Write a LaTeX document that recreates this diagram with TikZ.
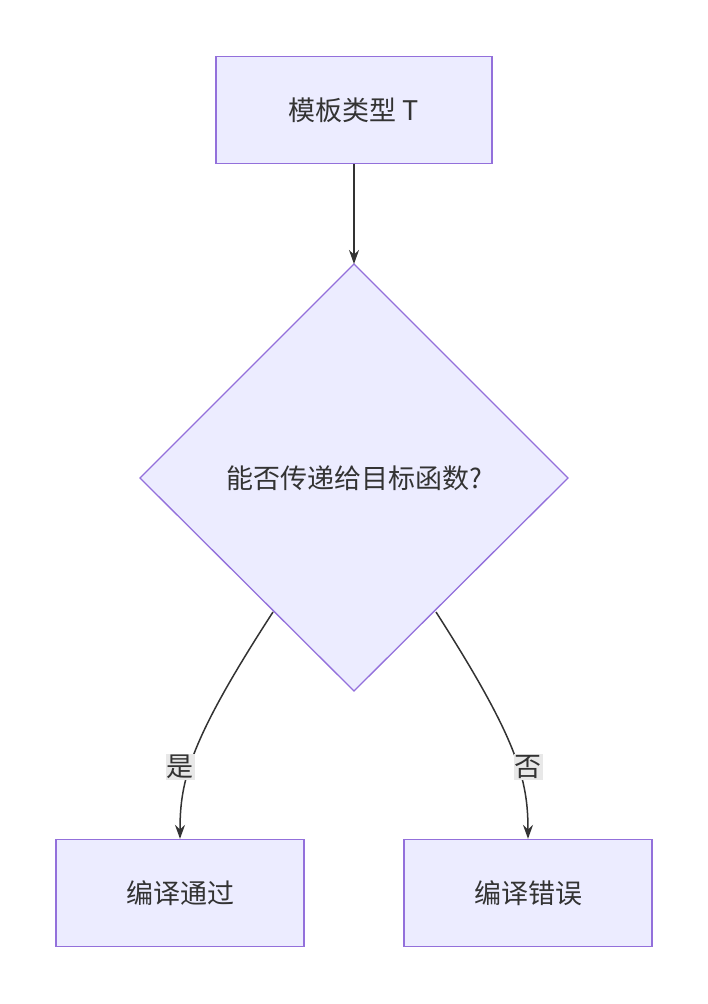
\documentclass[tikz,border=0pt]{standalone}
\usepackage{fontspec}
\setmainfont{Noto Sans CJK SC}
\usetikzlibrary{arrows.meta}
\definecolor{nfill}{HTML}{ECECFF}
\definecolor{nline}{HTML}{9370DB}
\definecolor{eline}{HTML}{333333}
\definecolor{lbg}{HTML}{E8E8E8}
\begin{document}
\begin{tikzpicture}[x=1pt,y=-1pt,
  box/.style={draw=nline,fill=nfill,line width=1.3pt,minimum width=276pt,minimum height=107pt,font=\fontsize{27}{30}\selectfont,text=eline},
  sbox/.style={box,minimum width=248pt},
  edge/.style={draw=eline,line width=1.5pt,-{Stealth[length=14pt,width=10pt]}},
  lab/.style={fill=lbg,inner sep=1pt,font=\fontsize{27}{30}\selectfont,text=eline}]
\useasboundingbox (0,0) rectangle (708,1004);
\node[box] (top) at (354,110) {模板类型 T};
\coordinate (dt) at (354,264);
\coordinate (db) at (354,691);
\coordinate (dl) at (140,478);
\coordinate (dr) at (568,478);
\draw[draw=nline,fill=nfill,line width=1.3pt] (dt) -- (dr) -- (db) -- (dl) -- cycle;
\node[font=\fontsize{27}{30}\selectfont,text=eline] (q) at (354,478) {能否传递给目标函数?};
\coordinate (ol) at (273,612);
\coordinate (or) at (436,612);
\node[sbox] (yes) at (180,893) {编译通过};
\node[sbox] (no) at (528,893) {编译错误};
\draw[edge] (top.south) -- (dt);
\draw[edge] (ol) .. controls (190,740) and (180,780) .. (yes.north);
\draw[edge] (or) .. controls (518,740) and (528,780) .. (no.north);
\node[lab] (ly) at (180,767) {是};
\node[lab] (ln) at (528,767) {否};
\end{tikzpicture}
\end{document}
